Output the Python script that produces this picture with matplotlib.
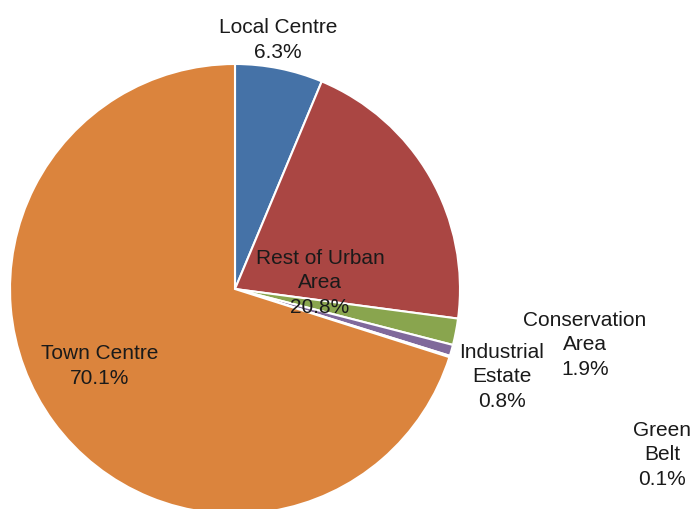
import matplotlib
matplotlib.use("Agg")
import matplotlib.pyplot as plt

categories = ["Local Centre", "Rest of Urban\nArea", "Conservation\nArea",
              "Industrial\nEstate", "Green\nBelt", "Town Centre"]
values = [6.3, 20.8, 1.9, 0.8, 0.1, 70.1]
colors = ["#4572A7", "#AA4643", "#89A54E", "#80699B", "#3D96AE", "#DB843D"]

# label anchor positions in pixel space (x, y from top)
label_pos = [(278, 40), (320, 283), (585, 345), (502, 377), (662, 455), (100, 366)]

W, H = 696, 510
fig = plt.figure(figsize=(W / 100, H / 100), dpi=100)
ax = fig.add_axes([0, 0, 1, 1])

ax.pie(values, colors=colors, startangle=90, counterclock=False,
       center=(235, H - 290), radius=225,
       wedgeprops=dict(edgecolor="white", linewidth=1.5))

ax.set_xlim(0, W)
ax.set_ylim(0, H)
ax.set_aspect("equal")
ax.axis("off")

for name, v, (x, y) in zip(categories, values, label_pos):
    ax.text(x, H - y, f"{name}\n{v:.1f}%", ha="center", va="center",
            fontsize=15, family=["Liberation Sans", "DejaVu Sans"],
            color="#1a1a1a", linespacing=1.35)

fig.savefig("out.png", dpi=100)
